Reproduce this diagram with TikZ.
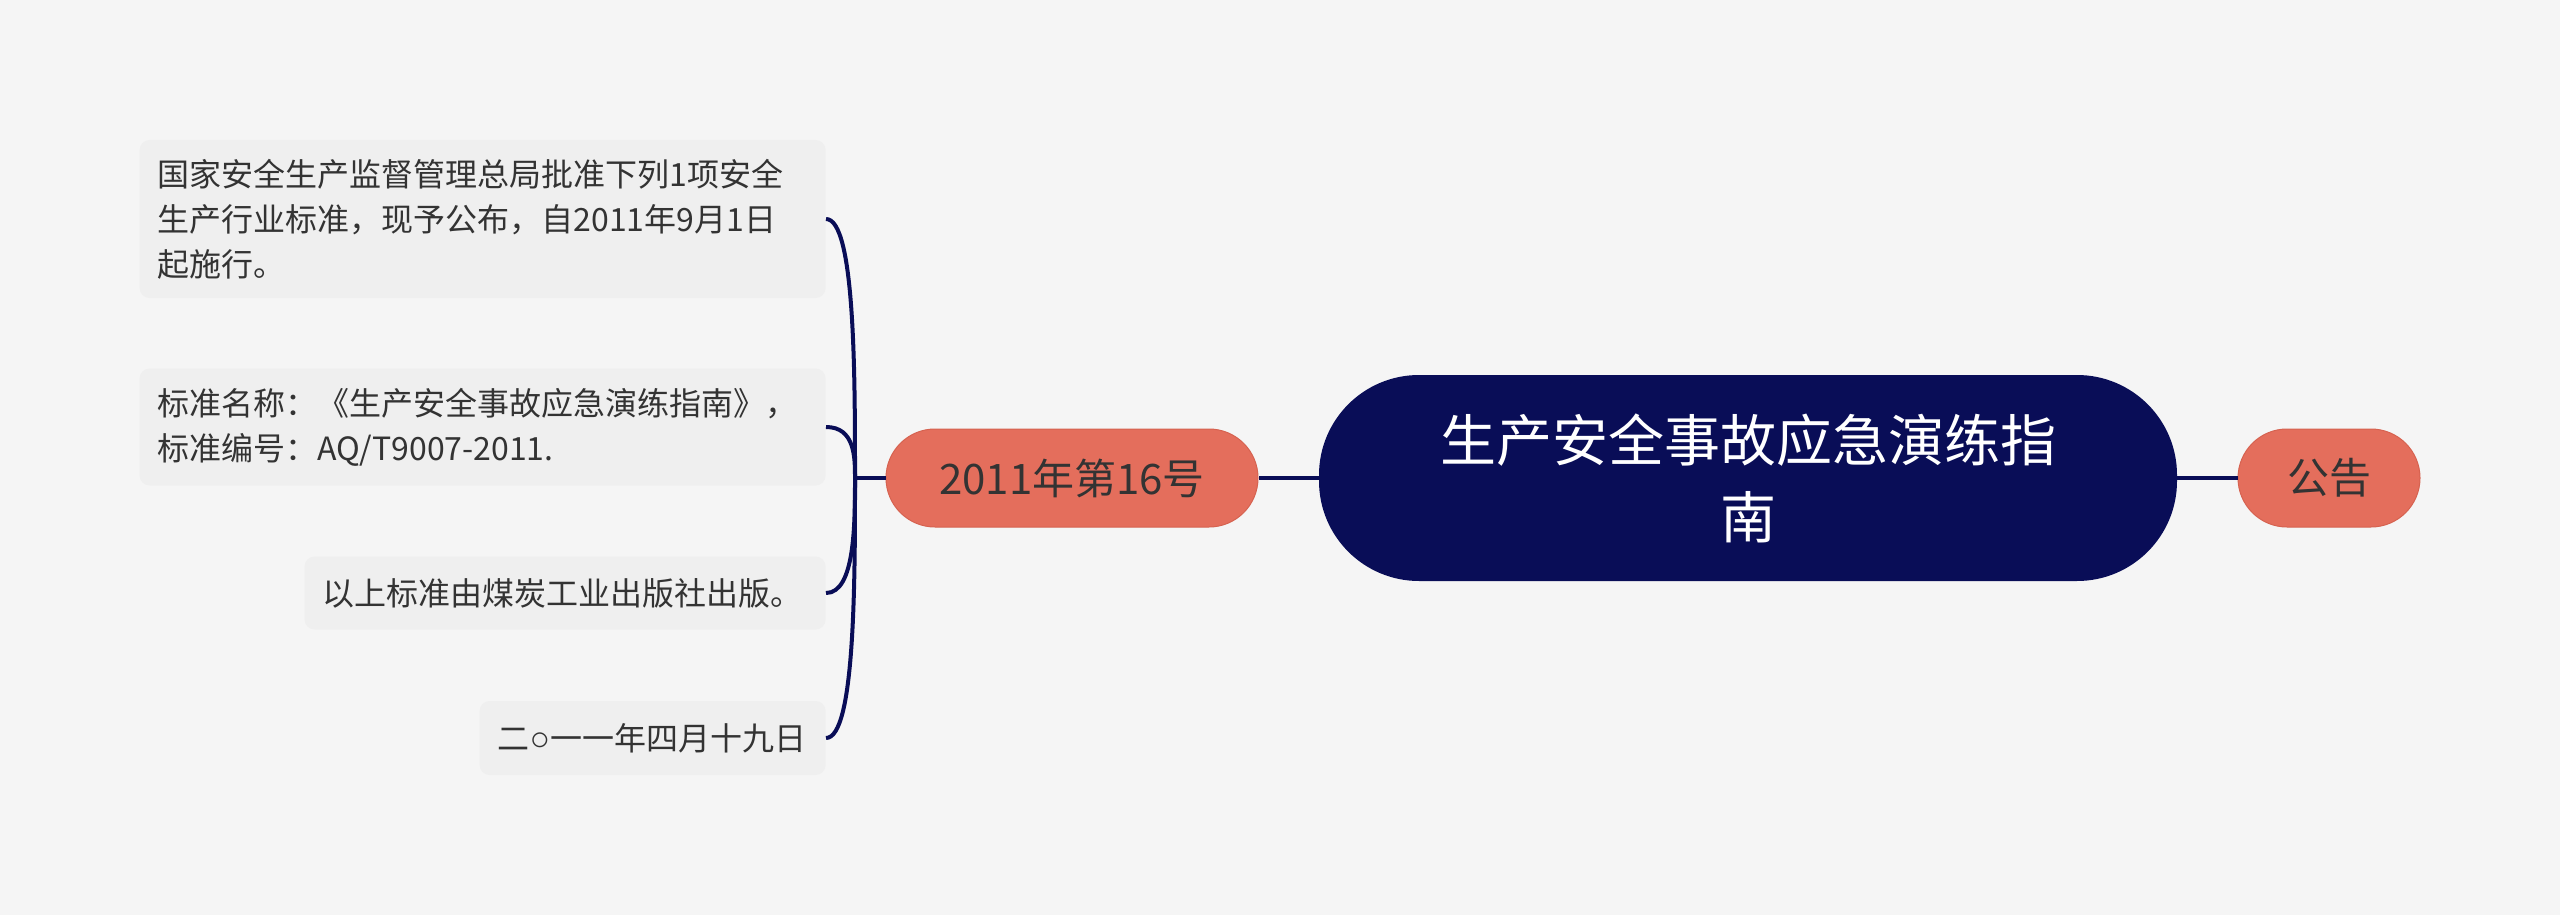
\documentclass[tikz,border=0pt]{standalone}
\usepackage{fontspec}
\setmainfont{Noto Sans CJK SC}
\newfontfamily\circfont{Liberation Sans}
\usepackage{tikz}
\usetikzlibrary{calc}
\definecolor{bggray}{RGB}{245,245,245}
\definecolor{leafgray}{RGB}{239,239,239}
\definecolor{txtgray}{RGB}{51,51,51}
\definecolor{navy}{RGB}{9,13,87}
\definecolor{salmon}{RGB}{228,110,92}
\definecolor{salmonedge}{RGB}{214,98,80}

\begin{document}
\begin{tikzpicture}[
  x=0.5pt, y=-0.5pt,
  every node/.style={inner sep=0pt, text=txtgray},
  root/.style={fill=navy, text=white, rounded corners=50pt, minimum width=429pt, minimum height=103pt, align=center, font=\fontsize{28}{38.5}\selectfont},
  topic/.style={fill=salmon, draw=salmonedge, line width=0.5pt, rounded corners=24.5pt, minimum height=49pt, font=\fontsize{21}{25}\selectfont},
  leaf/.style={fill=leafgray, rounded corners=5pt, inner xsep=9pt, anchor=east, align=left, font=\fontsize{16}{22.5}\selectfont},
  link/.style={draw=navy, line width=2pt}
]
\fill[bggray] (0,0) rectangle (2560,915);

\node[root] (title) at (1748,478) {生产安全事故应急演练指\\南};
\node[topic, minimum width=186pt] (num) at (1072,478) {2011年第16号};
\node[topic, minimum width=91pt] (notice) at (2329,478) {公告};

\node[leaf, text width=325pt, minimum height=79pt] (l1) at (826,219)
  {国家安全生产监督管理总局批准下列1项安全\\生产行业标准，现予公布，自2011年9月1日\\起施行。};
\node[leaf, text width=325pt, minimum height=58.5pt] (l2) at (826,427)
  {标准名称：《生产安全事故应急演练指南》，\\标准编号：AQ/T9007-2011.};
\node[leaf, text width=242.5pt, minimum height=36.5pt] (l3) at (826,593)
  {以上标准由煤炭工业出版社出版。};
\node[leaf, text width=155pt, minimum height=37pt] (l4) at (826,738)
  {二{\circfont\fontsize{17}{17}\selectfont ○}一一年四月十九日};

\draw[link] (title.west) -- (num.east);
\draw[link] (title.east) -- (notice.west);
\coordinate (jn) at (855,478);
\draw[link] (num.west) -- (jn);
\foreach \n in {l1,l2,l3,l4}
  \draw[link] (jn) .. controls ($(jn)!0.4!(jn |- \n.east)$) and (jn |- \n.east) .. (\n.east);
\end{tikzpicture}
\end{document}
